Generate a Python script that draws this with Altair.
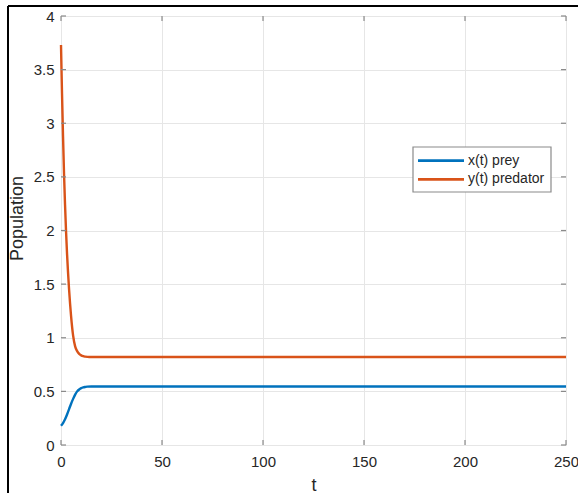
import altair as alt
import pandas as pd

# Series
prey_t = [0, 1, 2, 3, 4, 5, 6, 7, 8, 9, 10, 11, 12, 13, 15, 250]
prey_v = [0.18, 0.205, 0.24, 0.285, 0.335, 0.385, 0.43, 0.47, 0.5, 0.518, 0.53, 0.537, 0.541, 0.544, 0.545, 0.545]
pred_t = [0, 0.25, 0.5, 1, 1.5, 2, 2.5, 3, 4, 5, 6, 7, 8, 9, 10, 11, 12, 14, 250]
pred_v = [3.73, 3.5, 3.28, 2.88, 2.53, 2.24, 1.99, 1.78, 1.45, 1.2, 1.02, 0.92, 0.875, 0.85, 0.836, 0.828, 0.824, 0.82, 0.82]
series_names = ["x(t) prey", "y(t) predator"]
series_colors = ["#0072BD", "#D95319"]
x_ticks = [0, 50, 100, 150, 200, 250]
y_ticks = [0, 0.5, 1, 1.5, 2, 2.5, 3, 3.5, 4]

W, H = 505, 429
FONT = "Liberation Sans"
AX = "#8a8a8a"
TXT = "#262626"

df = pd.concat([
    pd.DataFrame({"t": prey_t, "v": prey_v, "s": series_names[0]}),
    pd.DataFrame({"t": pred_t, "v": pred_v, "s": series_names[1]}),
])

xs = alt.Scale(domain=[0, 250], nice=False, zero=False)
ys = alt.Scale(domain=[0, 4], nice=False)
x_axis = alt.Axis(
    values=x_ticks, title="t", ticks=False, domain=False, grid=True, labelFlush=False,
    gridColor="#e6e6e6", labelPadding=9, labelFontSize=15, labelFont=FONT,
    labelColor=TXT, titleFontSize=18, titleFont=FONT, titleColor=TXT,
    titleFontWeight="normal", titlePadding=7, format="d")
y_axis = alt.Axis(
    values=y_ticks, title="Population", ticks=False, domain=False, grid=True, labelFlush=False,
    gridColor="#e6e6e6", labelPadding=7, labelFontSize=15, labelFont=FONT,
    labelColor=TXT, titleFontSize=18, titleFont=FONT, titleColor=TXT,
    titleFontWeight="normal", titleX=-39, titleY=202, titleBaseline="alphabetic",
    titleAngle=270, format="~g")
xe = alt.X("t:Q", scale=xs, axis=x_axis, title="t")
ye = alt.Y("v:Q", scale=ys, axis=y_axis, title="Population")

lines = alt.Chart(df).mark_line(strokeWidth=2.4, interpolate="monotone").encode(
    x=xe, y=ye,
    color=alt.Color("s:N", scale=alt.Scale(domain=series_names, range=series_colors),
                    legend=None),
    order=alt.Order("t:Q"),
)

ydf = pd.DataFrame({"v": y_ticks})
xdf = pd.DataFrame({"t": x_ticks})
tick_left = alt.Chart(ydf).mark_rule(color=AX, strokeWidth=1.2).encode(y=ye, x=alt.value(0), x2=alt.value(5))
tick_right = alt.Chart(ydf).mark_rule(color=AX, strokeWidth=1.2).encode(y=ye, x=alt.value(W - 5), x2=alt.value(W))
tick_bottom = alt.Chart(xdf).mark_rule(color=AX, strokeWidth=1.2).encode(x=xe, y=alt.value(H - 5), y2=alt.value(H))
tick_top = alt.Chart(xdf).mark_rule(color=AX, strokeWidth=1.2).encode(x=xe, y=alt.value(0), y2=alt.value(5))

one = pd.DataFrame({"a": [0]})
frame_top = alt.Chart(one).mark_rule(color="black", strokeWidth=2).encode(
    x=alt.value(-53), x2=alt.value(530), y=alt.value(-10))
frame_left = alt.Chart(one).mark_rule(color="black", strokeWidth=2).encode(
    x=alt.value(-53), y=alt.value(-10), y2=alt.value(490))

# Legend box built from marks
leg_box = alt.Chart(one).mark_rect(fill="white", stroke=AX, strokeWidth=1.2).encode(
    x=alt.value(352), x2=alt.value(490), y=alt.value(131), y2=alt.value(176))
leg_layers = [leg_box]
row_y = [144.7, 163.3]
for name, col, ry in zip(series_names, series_colors, row_y):
    ldf = pd.DataFrame({"s": [name]})
    leg_layers.append(alt.Chart(ldf).mark_rule(color=col, strokeWidth=2.8).encode(
        x=alt.value(357), x2=alt.value(403), y=alt.value(ry)))
    leg_layers.append(alt.Chart(ldf).mark_text(
        align="left", baseline="middle", font=FONT, fontSize=14, color=TXT).encode(
        x=alt.value(407), y=alt.value(ry), text="s:N"))

chart = alt.layer(
    lines, tick_left, tick_right, tick_bottom, tick_top, *leg_layers, frame_top, frame_left
).properties(
    width=W, height=H,
    autosize=alt.AutoSizeParams(type="none"),
    padding={"left": 61, "top": 16, "right": 12, "bottom": 48},
).configure_view(stroke=AX, strokeWidth=1.5).configure(background="white")

chart.save("out.html", embed_options={"renderer": "svg", "actions": False})
